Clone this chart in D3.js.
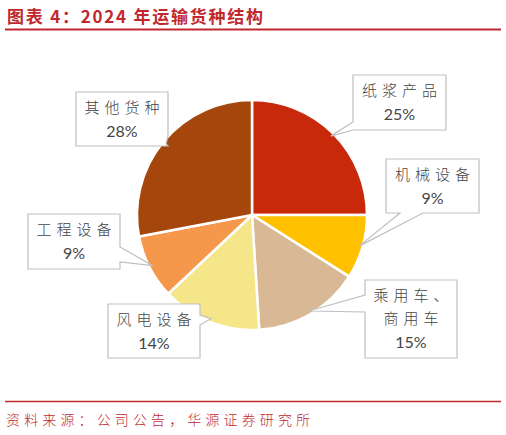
<!DOCTYPE html>
<html><head><meta charset="utf-8">
<script src="https://cdn.jsdelivr.net/npm/d3@7/dist/d3.min.js"></script>
<style>body{margin:0;background:#fff;}svg{display:block;}</style>
</head><body>
<svg id="c" width="506" height="435"></svg>
<script>
// ---- data ----
const categories = ["纸浆产品", "机械设备", "乘用车、\n商用车", "风电设备", "工程设备", "其他货种"];
const shares = [25, 9, 15, 14, 9, 28];
const title = "图表 4：2024 年运输货种结构";
const source = "资料来源：公司公告，华源证券研究所";

// ---- styles / layout ----
const colors = ["#C8290A", "#FFC000", "#D9B995", "#F6E68A", "#F5984B", "#A5470D"];
// callout boxes: [x0,y0,x1,y1], side of pointer, pointer base range
const boxes = [
  {b:[353,75,446,130], side:"left", base:[122,130]},
  {b:[386,159,479,213], side:"bottom", base:[400,423]},
  {b:[365,280,457,358], side:"left", base:[295,312]},
  {b:[108,304,200,358], side:"right", base:[315,325]},
  {b:[28,214,120,269], side:"right", base:[247,262]},
  {b:[76,92,168,146], side:"right", base:[136,146]}
];
const cx = 252, cy = 215, R = 115;

const svg = d3.select("#c");
const red = "#C0282E";

// title
svg.append("text").attr("x", 7).attr("y", 23)
  .attr("font-family", "'Noto Sans CJK SC', sans-serif").attr("font-weight", 700)
  .attr("font-size", 17).attr("fill", red)
  .attr("textLength", 256).attr("lengthAdjust", "spacing").text(title);
svg.append("line").attr("x1", 5).attr("x2", 501).attr("y1", 29.5).attr("y2", 29.5)
  .attr("stroke", red).attr("stroke-width", 2);

// footer
svg.append("line").attr("x1", 5).attr("x2", 501).attr("y1", 401.5).attr("y2", 401.5)
  .attr("stroke", red).attr("stroke-width", 1.6);
svg.append("text").attr("x", 6).attr("y", 425)
  .attr("font-family", "'Noto Sans CJK SC', sans-serif").attr("font-weight", 300)
  .attr("font-size", 14).attr("fill", red)
  .attr("textLength", 304).attr("lengthAdjust", "spacing").text(source);

// pie
const pie = d3.pie().sort(null).value(d => d)(shares);
const arc = d3.arc().innerRadius(0).outerRadius(R);
const edge = d3.arc().innerRadius(R * 0.97).outerRadius(R * 0.97);
const g = svg.append("g").attr("transform", `translate(${cx},${cy})`);
g.selectAll("path").data(pie).join("path")
  .attr("d", arc).attr("fill", (d, i) => colors[i])
  .attr("stroke", "#fff").attr("stroke-width", 2.5).attr("stroke-linejoin", "round");

// callouts
function callout(bx, tip) {
  const [x0, y0, x1, y1] = bx.b, [p, q] = bx.base, [tx, ty] = tip;
  let s = `M${x0},${y0}H${x1}`;
  if (bx.side === "right") s += `V${p}L${tx},${ty}L${x1},${q}`;
  s += `V${y1}`;
  if (bx.side === "bottom") s += `H${q}L${tx},${ty}L${p},${y1}`;
  s += `H${x0}`;
  if (bx.side === "left") s += `V${q}L${tx},${ty}L${x0},${p}`;
  return s + "Z";
}
const lab = svg.append("g");
pie.forEach((d, i) => {
  const c = edge.centroid(d);
  const tip = [cx + c[0], cy + c[1]];
  const bx = boxes[i];
  lab.append("path").attr("d", callout(bx, tip))
    .attr("fill", "#fff").attr("stroke", "#BFBFBF").attr("stroke-width", 1.2)
    .attr("stroke-linejoin", "miter");
  const lines = categories[i].split("\n").concat([shares[i] + "%"]);
  const mx = (bx.b[0] + bx.b[2]) / 2, my = (bx.b[1] + bx.b[3]) / 2;
  const lh = 23.5;
  lines.forEach((t, k) => {
    const isPct = k === lines.length - 1;
    const y = my + (k - (lines.length - 1) / 2) * lh;
    lab.append("text").attr("x", mx + (isPct ? 0 : 2.5)).attr("y", y)
      .attr("dy", "0.36em").attr("text-anchor", "middle")
      .attr("font-family", isPct ? "Lato, 'Noto Sans', sans-serif" : "'Noto Sans CJK SC', sans-serif")
      .attr("font-weight", isPct ? 400 : 300)
      .attr("letter-spacing", isPct ? 0 : 5)
      .attr("font-size", isPct ? 16 : 15).attr("fill", "#454545").text(t);
  });
});
</script>
</body></html>
